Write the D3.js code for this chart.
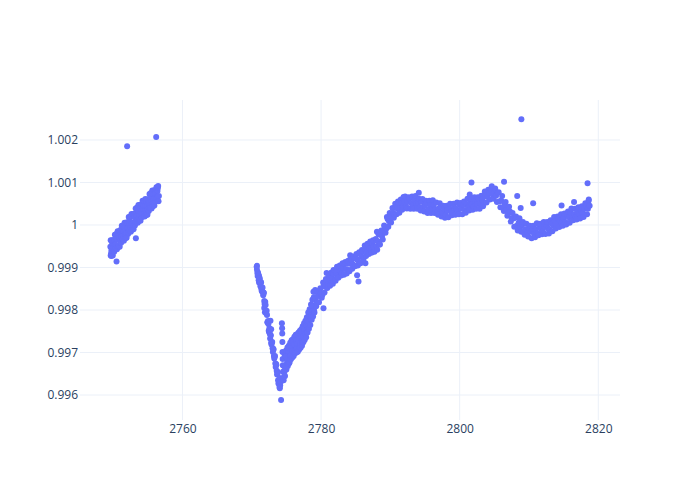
<!DOCTYPE html>
<html>
<head>
<meta charset="utf-8">
<script src="https://cdn.jsdelivr.net/npm/d3@7"></script>
<style>
  html, body { margin: 0; padding: 0; background: #fff; }
  svg { display: block; }
  text { font-family: "Open Sans", "Noto Sans", sans-serif; font-size: 12px; fill: #2a3f5f; }
</style>
</head>
<body>
<svg id="chart" width="700" height="500"></svg>
<script>
// ---- data: first orbit ----
const timeA = [2749.6,2749.65,2749.7,2749.75,2749.8,2749.85,2749.9,2750.0,2750.1,2750.2,2750.3,2750.4,2750.5,2750.6,2750.7,2750.8,2750.9,2751.0,2751.1,2751.2,2751.3,2751.4,2751.5,2751.6,2751.7,2751.8,2751.9,2752.0,2752.1,2752.2,2752.3,2752.4,2752.5,2752.6,2752.7,2752.8,2752.9,2753.0,2753.1,2753.2,2753.3,2753.4,2753.5,2753.6,2753.7,2753.8,2753.9,2754.0,2754.1,2754.2,2754.3,2754.4,2754.5,2754.6,2754.7,2754.8,2754.9,2755.0,2755.1,2755.2,2755.3,2755.4,2755.5,2755.6,2755.7,2755.8,2755.9,2756.0,2756.1,2756.2,2756.3,2756.4,2756.45,2756.5,2756.55,2756.6];
const fluxA = [0.99949,0.99928,0.99933,0.99940,0.99948,0.99958,0.99963,0.99945,0.99938,0.99964,0.99954,0.99971,0.99952,0.99967,0.99952,0.99975,0.99970,0.99962,0.99989,0.99972,0.99986,0.99967,0.99984,0.99995,0.99979,0.99992,0.99980,1.00006,0.99993,0.99982,1.00005,1.00011,0.99995,1.00005,1.00021,1.00004,0.99999,1.00022,1.00018,1.00007,1.00026,1.00021,1.00036,1.00013,1.00033,1.00024,1.00042,1.00030,1.00049,1.00026,1.00038,1.00046,1.00025,1.00044,1.00035,1.00056,1.00043,1.00036,1.00055,1.00053,1.00045,1.00067,1.00054,1.00069,1.00050,1.00064,1.00073,1.00063,1.00074,1.00064,1.00081,1.00080,1.00087,1.00092,1.00056,1.00068];
const timeA2 = [2749.65,2749.75,2749.85,2749.95,2750.05,2750.15,2750.25,2750.35,2750.45,2750.55,2750.65,2750.75,2750.85,2750.95,2751.05,2751.15,2751.25,2751.35,2751.45,2751.55,2751.65,2751.75,2751.85,2751.95,2752.05,2752.15,2752.25,2752.35,2752.45,2752.55,2752.65,2752.75,2752.85,2752.95,2753.05,2753.15,2753.25,2753.35,2753.45,2753.55,2753.65,2753.75,2753.85,2753.95,2754.05,2754.15,2754.25,2754.35,2754.45,2754.55,2754.65,2754.75,2754.85,2754.95,2755.05,2755.15,2755.25,2755.35,2755.45,2755.55,2755.65,2755.75,2755.85,2755.95,2756.05,2756.15,2756.25,2756.35,2756.45];
const fluxA2 = [0.99964,0.99927,0.99964,0.99928,0.99964,0.99937,0.99977,0.99944,0.99979,0.99943,0.99985,0.99948,0.99985,0.99949,0.99985,0.99958,0.99998,0.99965,0.99999,0.99963,1.00005,0.99968,1.00005,0.99970,1.00006,0.99979,1.00019,0.99986,1.00020,0.99984,1.00026,0.99989,1.00026,0.99990,1.00026,0.99999,1.00039,1.00007,1.00041,1.00005,1.00047,1.00010,1.00047,1.00010,1.00046,1.00018,1.00057,1.00023,1.00057,1.00020,1.00061,1.00023,1.00060,1.00024,1.00060,1.00033,1.00073,1.00040,1.00075,1.00039,1.00081,1.00044,1.00081,1.00046,1.00082,1.00055,1.00089,1.00065,1.00067];

// ---- data: second orbit, ingress of the dip ----
const timeB = [2770.7,2770.75,2770.8,2770.9,2771.0,2771.05,2771.1,2771.2,2771.3,2771.35,2771.4,2771.5,2771.6,2771.7,2771.8,2771.8,2771.9,2771.9,2772.0,2772.1,2772.2,2772.3,2772.4,2772.5,2772.6,2772.7,2772.7,2772.8,2772.8,2772.9,2773.0,2773.1,2773.2,2773.3,2773.4,2773.5,2773.6,2773.7,2773.8,2773.9,2774.0,2774.05,2774.1,2774.15,2774.35,2774.38,2774.4,2774.42,2774.44,2774.46,2774.48,2774.5];
const fluxB = [0.99902,0.99895,0.99887,0.99888,0.99870,0.99880,0.99873,0.99863,0.99866,0.99855,0.99849,0.99850,0.99841,0.99841,0.99821,0.99805,0.99819,0.99795,0.99812,0.99792,0.99788,0.99771,0.99767,0.99748,0.99745,0.99741,0.99775,0.99723,0.99755,0.99724,0.99710,0.99709,0.99692,0.99690,0.99674,0.99673,0.99657,0.99655,0.99635,0.99635,0.99619,0.99640,0.99623,0.99630,0.99769,0.99757,0.99745,0.99725,0.99701,0.99685,0.99670,0.99655];
const timeB2 = [2770.75,2770.85,2770.95,2771.05,2771.15,2771.25,2771.35,2771.45,2771.55,2771.65,2771.75,2771.85,2771.95,2772.05,2772.15,2772.25,2772.35,2772.45,2772.55,2772.65,2772.75,2772.85,2772.95,2773.05,2773.15,2773.25,2773.35,2773.45,2773.55,2773.65,2773.75,2773.85,2773.95,2774.05,2774.6,2774.8,2775.0,2775.2,2775.4];
const fluxB2 = [0.99904,0.99880,0.99884,0.99865,0.99875,0.99856,0.99865,0.99844,0.99853,0.99835,0.99840,0.99814,0.99819,0.99796,0.99798,0.99771,0.99774,0.99751,0.99757,0.99733,0.99740,0.99719,0.99725,0.99701,0.99707,0.99686,0.99692,0.99666,0.99671,0.99648,0.99652,0.99627,0.99635,0.99616,0.99635,0.99645,0.99660,0.99668,0.99675];

// ---- data: second orbit, egress and recovery ----
const timeC = [2774.6,2774.7,2774.8,2774.9,2775.0,2775.1,2775.2,2775.3,2775.4,2775.5,2775.6,2775.7,2775.8,2775.9,2776.0,2776.1,2776.2,2776.3,2776.4,2776.5,2776.6,2776.7,2776.8,2776.9,2777.0,2777.1,2777.2,2777.3,2777.4,2777.5,2777.6,2777.7,2777.8,2777.9,2778.0,2778.1,2778.2,2778.3,2778.4,2778.5,2778.6,2778.7,2778.8,2778.9,2779.0,2779.2,2779.4,2779.6,2779.8,2780.0,2780.2,2780.4,2780.6,2780.8,2781.0,2781.2,2781.4,2781.6,2781.8,2782.0,2782.2,2782.4,2782.6,2782.8,2783.0,2783.2,2783.4,2783.6,2783.8,2784.0,2784.2,2784.4,2784.6,2784.8,2785.0,2785.2,2785.4,2785.6,2785.8,2786.0,2786.2,2786.4,2786.6,2786.8,2787.0,2787.2,2787.4,2787.6,2787.8,2788.0,2788.2,2788.4,2788.6,2788.8,2789.0,2789.2,2789.4,2789.6,2789.8,2790.0,2790.2,2790.4,2790.6,2790.8,2791.0,2791.2,2791.4,2791.6,2791.8];
const fluxC = [0.99669,0.99654,0.99666,0.99692,0.99690,0.99677,0.99686,0.99701,0.99712,0.99685,0.99693,0.99718,0.99709,0.99704,0.99724,0.99719,0.99703,0.99734,0.99727,0.99710,0.99721,0.99731,0.99737,0.99713,0.99722,0.99739,0.99749,0.99728,0.99737,0.99760,0.99751,0.99745,0.99744,0.99764,0.99773,0.99757,0.99773,0.99788,0.99795,0.99784,0.99787,0.99811,0.99809,0.99799,0.99798,0.99825,0.99817,0.99833,0.99846,0.99838,0.99836,0.99860,0.99855,0.99867,0.99859,0.99880,0.99870,0.99876,0.99886,0.99872,0.99889,0.99881,0.99899,0.99891,0.99886,0.99899,0.99909,0.99896,0.99909,0.99894,0.99909,0.99917,0.99907,0.99904,0.99921,0.99919,0.99914,0.99935,0.99926,0.99938,0.99925,0.99942,0.99936,0.99952,0.99945,0.99940,0.99956,0.99949,0.99964,0.99950,0.99962,0.99954,0.99977,0.99974,0.99986,0.99994,0.99991,1.00014,1.00009,1.00027,1.00018,1.00029,1.00024,1.00042,1.00039,1.00051,1.00040,1.00051,1.00043];
const timeC2 = [2774.65,2774.75,2774.85,2774.95,2775.05,2775.15,2775.25,2775.35,2775.45,2775.55,2775.65,2775.75,2775.85,2775.95,2776.05,2776.15,2776.25,2776.35,2776.45,2776.55,2776.65,2776.75,2776.85,2776.95,2777.05,2777.15,2777.25,2777.35,2777.45,2777.55,2777.65,2777.75,2777.85,2777.95,2778.05,2778.15,2778.25,2778.35,2778.45,2778.55,2778.65,2778.75,2778.85,2778.95,2779.05,2779.1,2779.3,2779.5,2779.7,2779.9,2780.1,2780.3,2780.5,2780.7,2780.9,2781.1,2781.3,2781.5,2781.7,2781.9,2782.1,2782.3,2782.5,2782.7,2782.9,2783.1,2783.3,2783.5,2783.7,2783.9,2784.1,2784.3,2784.5,2784.7,2784.9,2785.1,2785.3,2785.5,2785.7,2785.9,2786.1,2786.3,2786.5,2786.7,2786.9,2787.1,2787.3,2787.5,2787.7,2787.9,2788.1,2788.3,2788.5,2788.7,2788.9,2789.1,2789.3,2789.5,2789.7,2789.9,2790.1,2790.3,2790.5,2790.7,2790.9,2791.1,2791.3,2791.5,2791.7,2791.9];
const fluxC2 = [0.99643,0.99694,0.99660,0.99705,0.99667,0.99712,0.99673,0.99716,0.99677,0.99723,0.99684,0.99729,0.99688,0.99731,0.99692,0.99737,0.99698,0.99742,0.99700,0.99743,0.99702,0.99747,0.99707,0.99751,0.99711,0.99755,0.99716,0.99762,0.99724,0.99769,0.99730,0.99775,0.99736,0.99783,0.99747,0.99794,0.99756,0.99802,0.99765,0.99813,0.99777,0.99824,0.99785,0.99830,0.99794,0.99830,0.99809,0.99841,0.99818,0.99851,0.99829,0.99865,0.99841,0.99873,0.99852,0.99883,0.99857,0.99888,0.99862,0.99893,0.99869,0.99902,0.99876,0.99905,0.99881,0.99910,0.99883,0.99913,0.99886,0.99916,0.99891,0.99924,0.99897,0.99926,0.99903,0.99932,0.99905,0.99936,0.99910,0.99941,0.99918,0.99952,0.99927,0.99956,0.99932,0.99961,0.99935,0.99964,0.99937,0.99967,0.99942,0.99978,0.99954,0.99987,0.99966,0.99999,0.99982,1.00019,0.99996,1.00028,1.00006,1.00040,1.00017,1.00050,1.00025,1.00055,1.00029,1.00060,1.00036,1.00066];

// ---- data: second orbit, out-of-dip baseline ----
const timeD = [2792.0,2792.25,2792.5,2792.75,2793.0,2793.25,2793.5,2793.75,2794.0,2794.25,2794.5,2794.75,2795.0,2795.25,2795.5,2795.75,2796.0,2796.25,2796.5,2796.75,2797.0,2797.25,2797.5,2797.75,2798.0,2798.25,2798.5,2798.75,2799.0,2799.25,2799.5,2799.75,2800.0,2800.25,2800.5,2800.75,2801.0,2801.25,2801.5,2801.75,2802.0,2802.25,2802.5,2802.75,2803.0,2803.25,2803.5,2803.75,2804.0,2804.25,2804.5,2804.75,2805.0,2805.25,2805.5,2805.75,2806.0,2806.25,2806.5,2806.75,2807.0,2807.25,2807.5,2807.75,2808.0,2808.25,2808.5,2808.75,2809.0,2809.25,2809.5,2809.75,2810.0,2810.25,2810.5,2810.75,2811.0,2811.25,2811.5,2811.75,2812.0,2812.25,2812.5,2812.75,2813.0,2813.25,2813.5,2813.75,2814.0,2814.25,2814.5,2814.75,2815.0,2815.25,2815.5,2815.75,2816.0,2816.25,2816.5,2816.75,2817.0,2817.25,2817.5,2817.75,2818.0,2818.25,2818.5,2818.6,2818.75];
const fluxD = [1.00056,1.00045,1.00055,1.00062,1.00051,1.00045,1.00058,1.00050,1.00052,1.00041,1.00055,1.00043,1.00045,1.00052,1.00036,1.00047,1.00037,1.00047,1.00037,1.00030,1.00039,1.00043,1.00029,1.00038,1.00024,1.00034,1.00040,1.00031,1.00029,1.00041,1.00038,1.00033,1.00048,1.00039,1.00048,1.00035,1.00048,1.00042,1.00054,1.00048,1.00043,1.00056,1.00050,1.00062,1.00050,1.00060,1.00052,1.00070,1.00066,1.00075,1.00083,1.00072,1.00076,1.00069,1.00076,1.00056,1.00057,1.00040,1.00048,1.00036,1.00027,1.00032,1.00016,1.00015,1.00017,0.99998,1.00005,0.99995,1.00000,0.99983,0.99990,0.99983,0.99993,0.99984,0.99989,0.99979,0.99990,0.99980,0.99997,0.99990,0.99986,0.99995,1.00000,0.99992,0.99989,1.00003,0.99999,1.00009,1.00001,1.00015,1.00010,1.00005,1.00016,1.00007,1.00023,1.00018,1.00029,1.00018,1.00025,1.00018,1.00032,1.00026,1.00035,1.00028,1.00038,1.00046,1.00038,1.00057,1.00045];
const timeD2 = [2792.125,2792.375,2792.625,2792.875,2793.125,2793.375,2793.625,2793.875,2794.125,2794.375,2794.625,2794.875,2795.125,2795.375,2795.625,2795.875,2796.125,2796.375,2796.625,2796.875,2797.125,2797.375,2797.625,2797.875,2798.125,2798.375,2798.625,2798.875,2799.125,2799.375,2799.625,2799.875,2800.125,2800.375,2800.625,2800.875,2801.125,2801.375,2801.625,2801.875,2802.125,2802.375,2802.625,2802.875,2803.125,2803.375,2803.625,2803.875,2804.125,2804.375,2804.625,2804.875,2805.125,2805.375,2805.625,2805.875,2806.125,2806.375,2806.625,2806.875,2807.125,2807.375,2807.625,2807.875,2808.125,2808.375,2808.625,2808.875,2809.125,2809.375,2809.625,2809.875,2810.125,2810.375,2810.625,2810.875,2811.125,2811.375,2811.625,2811.875,2812.125,2812.375,2812.625,2812.875,2813.125,2813.375,2813.625,2813.875,2814.125,2814.375,2814.625,2814.875,2815.125,2815.375,2815.625,2815.875,2816.125,2816.375,2816.625,2816.875,2817.125,2817.375,2817.625,2817.875,2818.125,2818.375,2818.625];
const fluxD2 = [1.00067,1.00039,1.00065,1.00038,1.00067,1.00038,1.00068,1.00038,1.00062,1.00034,1.00061,1.00032,1.00057,1.00028,1.00057,1.00028,1.00058,1.00028,1.00053,1.00024,1.00051,1.00020,1.00045,1.00017,1.00045,1.00018,1.00050,1.00023,1.00050,1.00024,1.00053,1.00025,1.00052,1.00025,1.00055,1.00029,1.00062,1.00034,1.00062,1.00036,1.00065,1.00038,1.00065,1.00038,1.00069,1.00044,1.00079,1.00053,1.00083,1.00060,1.00091,1.00062,1.00086,1.00054,1.00077,1.00042,1.00068,1.00033,1.00054,1.00022,1.00043,1.00008,1.00028,0.99996,1.00020,0.99987,1.00016,0.99984,1.00007,0.99977,1.00003,0.99973,0.99998,0.99969,0.99998,0.99971,1.00004,0.99976,1.00003,0.99978,1.00007,0.99979,1.00007,0.99980,1.00011,0.99985,1.00019,0.99992,1.00020,0.99995,1.00025,0.99998,1.00027,1.00001,1.00032,1.00005,1.00039,1.00011,1.00038,1.00013,1.00042,1.00015,1.00044,1.00019,1.00051,1.00025,1.00060];

// ---- data: isolated outlying points ----
const outlierTime = [2750.49,2752.02,2753.28,2756.21,2774.23,2778.9,2779.15,2780.35,2780.8,2781.8,2784.2,2785.2,2785.4,2786.4,2788.06,2794.1,2801.45,2801.7,2806.4,2808.3,2808.8,2808.9,2810.6,2814.7,2816.5,2818.45];
const outlierFlux = [0.99914,1.00185,0.99969,1.00207,0.99588,0.99843,0.99847,0.99804,0.99887,0.99894,0.99929,0.99882,0.99867,0.99910,0.99984,1.00076,1.00072,1.00100,1.00102,1.00068,1.00040,1.00249,1.00051,1.00046,1.00054,1.00098];

// ---- axes ----
const xTicks = [2760, 2780, 2800, 2820];
const xTickLabels = ["2760", "2780", "2800", "2820"];
const yTicks = [0.996, 0.997, 0.998, 0.999, 1.000, 1.001, 1.002];
const yTickLabels = ["0.996", "0.997", "0.998", "0.999", "1", "1.001", "1.002"];

const W = 700, H = 500;
const margin = { left: 80, right: 80, top: 100, bottom: 80 };
const x = d3.scaleLinear().domain([2745.22, 2823.13]).range([margin.left, W - margin.right]);
const y = d3.scaleLinear().domain([0.995412, 1.002941]).range([H - margin.bottom, margin.top]);

const svg = d3.select("#chart");
svg.append("rect").attr("width", W).attr("height", H).attr("fill", "#fff");

const grid = svg.append("g");
grid.selectAll("line.gx").data(xTicks).join("line")
  .attr("x1", d => x(d)).attr("x2", d => x(d))
  .attr("y1", margin.top).attr("y2", H - margin.bottom)
  .attr("stroke", "#ebf0f8").attr("stroke-width", 1);
grid.selectAll("line.gy").data(yTicks).join("line")
  .attr("x1", margin.left).attr("x2", W - margin.right)
  .attr("y1", d => y(d)).attr("y2", d => y(d))
  .attr("stroke", "#ebf0f8").attr("stroke-width", 1);

const xAxis = d3.axisBottom(x).tickValues(xTicks).tickSize(0).tickPadding(4)
  .tickFormat((d, i) => xTickLabels[i]);
const gx = svg.append("g").attr("transform", `translate(0,${H - margin.bottom})`).call(xAxis);
gx.select(".domain").remove();
gx.selectAll("text").style("font-family", '"Open Sans", sans-serif').style("font-size", "12px").attr("fill", "#2a3f5f");

const yAxis = d3.axisLeft(y).tickValues(yTicks).tickSize(0).tickPadding(2)
  .tickFormat((d, i) => yTickLabels[i]);
const gy = svg.append("g").attr("transform", `translate(${margin.left},0)`).call(yAxis);
gy.select(".domain").remove();
gy.selectAll("text").style("font-family", '"Open Sans", sans-serif').style("font-size", "12px").attr("fill", "#2a3f5f");

// ---- points ----
const pts = [];
[[timeA, fluxA], [timeA2, fluxA2], [timeB, fluxB], [timeB2, fluxB2], [timeC, fluxC], [timeC2, fluxC2],
 [timeD, fluxD], [timeD2, fluxD2], [outlierTime, outlierFlux]]
  .forEach(([t, f]) => t.forEach((v, i) => pts.push([v, f[i]])));
pts.sort((a, b) => a[0] - b[0]);

svg.append("g").selectAll("circle").data(pts).join("circle")
  .attr("cx", d => x(d[0]))
  .attr("cy", d => y(d[1]))
  .attr("r", 3)
  .attr("fill", "#636efa");
</script>
</body>
</html>
